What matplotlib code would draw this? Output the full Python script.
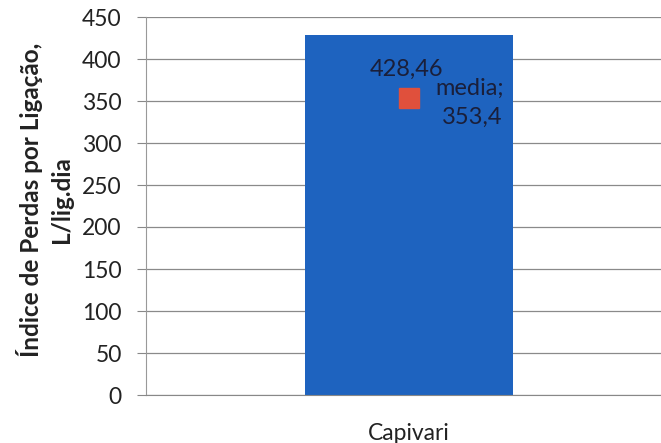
import matplotlib
matplotlib.use('Agg')
import matplotlib.pyplot as plt

plt.rcParams['font.family'] = ['Lato', 'DejaVu Sans']

categorias = ['Capivari']
valores = [428.46]
media = 353.4
yticks = [0, 50, 100, 150, 200, 250, 300, 350, 400, 450]

fig = plt.figure(figsize=(6.61, 4.43), dpi=100)
ax = fig.add_axes([146 / 661, 1 - 395 / 443, 526 / 661, 378 / 443])

ax.bar(categorias, valores, width=0.395, color='#1e63bf', zorder=2)
ax.plot([0], [media], marker='s', markersize=14, color='#e0503c', linestyle='none', zorder=3)

# rótulos dos dados
ax.text(-0.005, 388, '428,46', ha='center', va='center', fontsize=17, color='#1a1f3a', zorder=4)
ax.text(0.115, 365, 'media;', ha='center', va='center', fontsize=17, color='#1a1f3a', zorder=4)
ax.text(0.12, 330, '353,4', ha='center', va='center', fontsize=17, color='#1a1f3a', zorder=4)

ax.set_xlim(-0.5, 0.5)
ax.set_ylim(0, 450)
ax.set_yticks(yticks)
ax.tick_params(axis='y', labelsize=16.5, length=6.5, color='#888888', pad=11, labelcolor='#222222')
ax.tick_params(axis='x', labelsize=16.5, length=0, pad=20, labelcolor='#222222')
ax.yaxis.grid(True, color='#8a8a8a', linewidth=0.9, zorder=0)
for s in ['top', 'right']:
    ax.spines[s].set_visible(False)
ax.spines['left'].set_color('#999999')
ax.spines['bottom'].set_color('#888888')

ax.set_ylabel('Índice de Perdas por Ligação,\nL/lig.dia', fontsize=17.5, fontweight='bold',
              color='#222222', linespacing=1.35)
ax.yaxis.set_label_coords((73 - 146) / 526, 0.516)

fig.savefig('out.png', dpi=100)
